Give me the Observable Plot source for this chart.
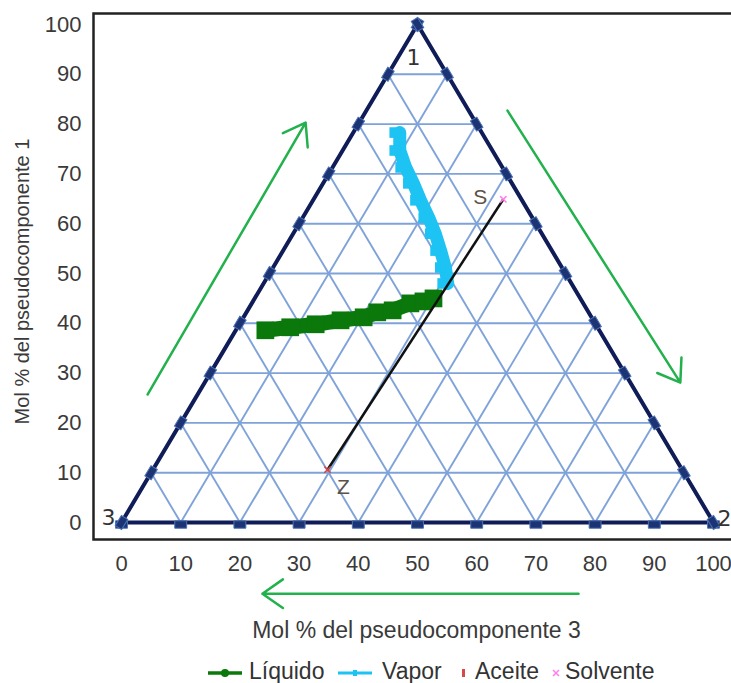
<!DOCTYPE html>
<html>
<head>
<meta charset="utf-8">
<script src="https://cdn.jsdelivr.net/npm/d3@7"></script>
<script src="https://cdn.jsdelivr.net/npm/@observablehq/plot@0.6"></script>
<style>
  body { margin: 0; background: #fff; font-family: "Liberation Sans", Arial, sans-serif; }
  #chart svg { display: block; }
  #legend { position: relative; width: 731px; height: 28px; font-size: 23px; color: #333; }
  #legend span, #legend svg { position: absolute; }
  #legend span { top: 1px; line-height: 30px; }
  #legend svg { top: 8px; }
</style>
</head>
<body>
<div id="chart"></div>
<div id="legend"></div>
<script>
// ---- data ----
const xTicks = [0, 10, 20, 30, 40, 50, 60, 70, 80, 90, 100];
const yTicks = [0, 10, 20, 30, 40, 50, 60, 70, 80, 90, 100];
const gridLevels = [10, 20, 30, 40, 50, 60, 70, 80, 90];
const vertices = [
  {label: "3", x: 0, y: 0},
  {label: "2", x: 100, y: 0},
  {label: "1", x: 50, y: 100}
];
// Liquid phase composition (x, y in chart coordinates)
const liquidX = [24.3, 28.5, 32.8, 37.0, 40.9, 43.2, 45.8, 48.8, 51.0, 52.7];
const liquidY = [38.6, 39.2, 39.8, 40.6, 41.2, 42.2, 42.6, 44.0, 44.4, 45.0];
// Vapor phase composition
const vaporX = [47.0, 47.0, 48.0, 49.3, 50.5, 51.9, 53.0, 53.9, 54.7, 55.1];
const vaporY = [78.3, 74.7, 71.3, 68.1, 64.7, 61.2, 58.0, 54.6, 51.2, 48.0];
// Oil (Z) and Solvent (S)
const feedPoints = [
  {name: "Aceite", label: "Z", x: 34.8, y: 10.6},
  {name: "Solvente", label: "S", x: 64.5, y: 64.9}
];
// Direction arrows
const arrows = [
  {x1: 4.4, y1: 25.7, x2: 31.1, y2: 80.3},
  {x1: 65.2, y1: 82.7, x2: 94.4, y2: 28.1},
  {x1: 77.2, y1: -14.3, x2: 23.8, y2: -14.3}
];

// ---- derived tables ----
const liquid = liquidX.map((x, i) => ({x, y: liquidY[i]}));
const vapor = vaporX.map((x, i) => ({x, y: vaporY[i]}));
const outline = [vertices[0], vertices[1], vertices[2], vertices[0]];
const grid = [];
for (const v of gridLevels) {
  grid.push({x1: v / 2, y1: v, x2: 100 - v / 2, y2: v});
  grid.push({x1: v, y1: 0, x2: v + (100 - v) / 2, y2: 100 - v});
  grid.push({x1: v, y1: 0, x2: v / 2, y2: v});
}
const baseTicks = [], leftTicks = [], rightTicks = [];
for (let k = 0; k <= 10; k++) {
  baseTicks.push({x: k * 10, y: 0});
  leftTicks.push({x: k * 5, y: k * 10});
  rightTicks.push({x: 100 - k * 5, y: k * 10});
}

const navy = "#0f1c57";
const font = "Liberation Sans, Arial, sans-serif";
const vtx = (label) => vertices.filter(d => d.label === label);
const vtxStyle = {x: "x", y: "y", text: "label", fontSize: 22, fill: "#333", fontFamily: "DejaVu Sans"};
const tickSymbol = {
  draw(ctx, size) {
    const s = Math.sqrt(size);
    ctx.rect(-0.8 * s, -0.5 * s, 1.6 * s, 1.0 * s);
  }
};
const tickStyle = {x: "x", y: "y", symbol: tickSymbol, r: 4.2, fill: "#1d3474", stroke: "#4d72b4", strokeWidth: 1};

const plot = Plot.plot({
  width: 731,
  height: 655,
  marginLeft: 93,
  marginTop: 13,
  marginRight: -8,
  marginBottom: 116,
  style: {fontFamily: font, background: "#fff", overflow: "visible"},
  x: {domain: [0, 100], range: [121, 713]},
  y: {domain: [0, 100], range: [522, 24]},
  marks: [
    Plot.frame({stroke: "#222", strokeWidth: 2.5}),
    Plot.axisY({ticks: yTicks, tickSize: 0, tickPadding: 12, fontSize: 22, color: "#3a3a3a", label: null}),
    Plot.axisX({ticks: xTicks, tickSize: 0, tickPadding: 16, fontSize: 22, color: "#3a3a3a", label: null}),
    Plot.text(["Mol % del pseudocomponente 1"], {frameAnchor: "left", textAnchor: "middle", rotate: -90, dx: -71, dy: 5, fontSize: 20, fill: "#3a3a3a"}),
    Plot.text(["Mol % del pseudocomponente 3"], {frameAnchor: "bottom", textAnchor: "middle", dx: 0, dy: 98, fontSize: 23, fill: "#3a3a3a"}),
    Plot.link(grid, {x1: "x1", y1: "y1", x2: "x2", y2: "y2", stroke: "#7fa3d9", strokeWidth: 1.9}),
    Plot.line(outline, {x: "x", y: "y", stroke: navy, strokeWidth: 4, strokeLinejoin: "round"}),
    Plot.dot(baseTicks, {...tickStyle, dy: 2}),
    Plot.dot(leftTicks, {...tickStyle, rotate: -59}),
    Plot.dot(rightTicks, {...tickStyle, rotate: 59}),
    Plot.line(liquid, {x: "x", y: "y", stroke: "#0a780a", strokeWidth: 15}),
    Plot.dot(liquid, {x: "x", y: "y", symbol: "square", r: 10, fill: "#0a780a"}),
    Plot.line(vapor, {x: "x", y: "y", stroke: "#1cc3f3", strokeWidth: 13}),
    Plot.dot(vapor, {x: "x", y: "y", symbol: "square", r: 6, fill: "#1cc3f3", dx: -5}),
    Plot.link([feedPoints], {x1: d => d[0].x, y1: d => d[0].y, x2: d => d[1].x, y2: d => d[1].y, stroke: "#111", strokeWidth: 2.5}),
    Plot.dot(feedPoints.slice(0, 1), {x: "x", y: "y", symbol: "times", r: 3, stroke: "#d84848", strokeWidth: 1.5}),
    Plot.dot(feedPoints.slice(1), {x: "x", y: "y", symbol: "times", r: 3, stroke: "#ff80ee", strokeWidth: 1.5}),
    Plot.text(feedPoints.slice(0, 1), {x: "x", y: "y", text: "label", dx: 16, dy: 18, fontSize: 21, fill: "#5c5248"}),
    Plot.text(feedPoints.slice(1), {x: "x", y: "y", text: "label", dx: -23, dy: -2, fontSize: 21, fill: "#5c5248"}),
    Plot.text(vtx("1"), {...vtxStyle, dx: -4, dy: 33}),
    Plot.text(vtx("3"), {...vtxStyle, dx: -13, dy: -5}),
    Plot.text(vtx("2"), {...vtxStyle, dx: 11, dy: -4}),
    Plot.arrow(arrows, {x1: "x1", y1: "y1", x2: "x2", y2: "y2", stroke: "#22b14c", strokeWidth: 2.5, headLength: 15, headAngle: 70})
  ]
});
document.getElementById("chart").appendChild(plot);

// ---- legend ----
const legendItems = [
  {name: "Líquido", color: "#0a780a", sw: 208, tx: 249, kind: "line-dot"},
  {name: "Vapor", color: "#1cc3f3", sw: 338, tx: 382, kind: "line-tick"},
  {name: "Aceite", color: "#d84848", sw: 459, tx: 475, kind: "tick"},
  {name: "Solvente", color: "#ff80ee", sw: 551, tx: 565, kind: "times"}
];
const legend = d3.select("#legend");
for (const it of legendItems) {
  const w = it.kind.startsWith("line") ? 34 : 10;
  const s = legend.append("svg").attr("width", w).attr("height", 20).style("left", it.sw + "px");
  if (it.kind === "line-dot") {
    s.append("line").attr("x1", 0).attr("x2", w).attr("y1", 10).attr("y2", 10).attr("stroke", it.color).attr("stroke-width", 3.5);
    s.append("circle").attr("cx", w / 2).attr("cy", 10).attr("r", 4).attr("fill", it.color);
  } else if (it.kind === "line-tick") {
    s.append("line").attr("x1", 0).attr("x2", w).attr("y1", 10).attr("y2", 10).attr("stroke", it.color).attr("stroke-width", 3);
    s.append("rect").attr("x", w / 2 - 2).attr("y", 7).attr("width", 4).attr("height", 6).attr("fill", it.color);
  } else if (it.kind === "tick") {
    s.append("rect").attr("x", 3).attr("y", 6).attr("width", 3).attr("height", 8).attr("fill", it.color);
  } else {
    s.append("path").attr("d", "M2,7L8,13M8,7L2,13").attr("stroke", it.color).attr("stroke-width", 1.6);
  }
  legend.append("span").style("left", it.tx + "px").text(it.name);
}
</script>
</body>
</html>
